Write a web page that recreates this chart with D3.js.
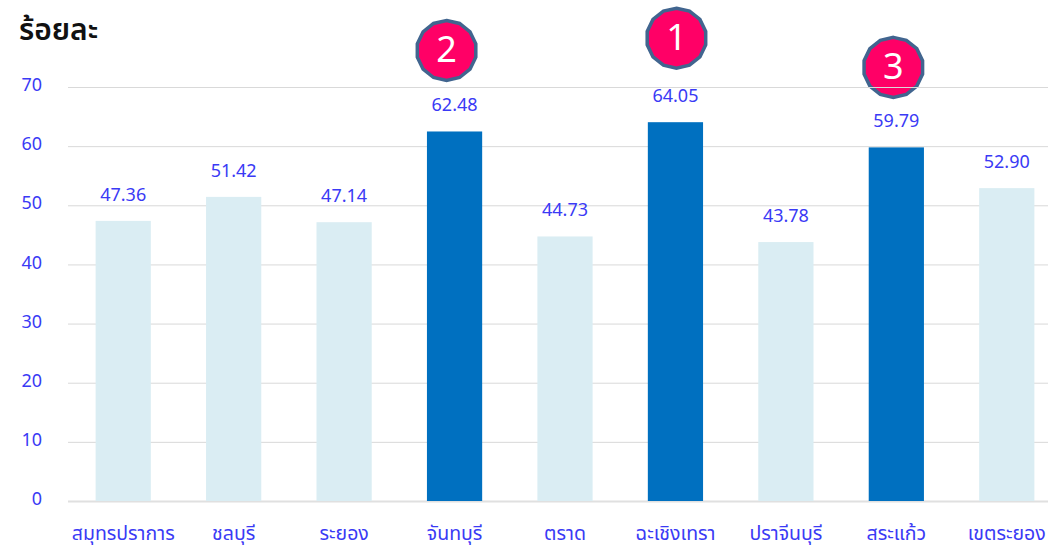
<!DOCTYPE html>
<html>
<head>
<meta charset="utf-8">
<script src="https://cdn.jsdelivr.net/npm/d3@7"></script>
<style>
  html, body { margin: 0; padding: 0; background: #fff; overflow: hidden; }
  text { font-family: "Noto Sans", "Noto Sans Thai", "Open Sans", sans-serif; }
</style>
</head>
<body>
<div class="canvas"></div>
<script>
// values
var provinces = ["สมุทรปราการ", "ชลบุรี", "ระยอง", "จันทบุรี", "ตราด", "ฉะเชิงเทรา", "ปราจีนบุรี", "สระแก้ว", "เขตระยอง"];
var percents = [47.36, 51.42, 47.14, 62.48, 44.73, 64.05, 43.78, 59.79, 52.90];
var yTicks = [0, 10, 20, 30, 40, 50, 60, 70];
var rankProvinces = ["ฉะเชิงเทรา", "จันทบุรี", "สระแก้ว"];
var rankLabels = ["1", "2", "3"];

var width = 1048, height = 547;
var margin = {top: 87, right: -14, bottom: 46, left: 68};

var svg = d3.select(".canvas")
    .append("svg")
    .attr("width", width)
    .attr("height", height)
    .style("display", "block");

var x = d3.scaleBand()
    .domain(provinces)
    .range([margin.left, width - margin.right])
    .paddingInner(0.5)
    .paddingOuter(0.25);

var y = d3.scaleLinear()
    .domain([0, 70])
    .range([height - margin.bottom, margin.top]);

var blue = "#3A3AF5";

// title
svg.append("text")
    .attr("x", 19)
    .attr("y", 40)
    .attr("fill", "#111")
    .style("font-size", "30px")
    .style("font-weight", 600)
    .text("ร้อยละ");

// badges go under the gridlines, the 70 line crosses badge 3 in the original
var rankOffset = {"1": {dx: 1, dy: -84}, "2": {dx: -8, dy: -81}, "3": {dx: -3, dy: -80}};
var polygon = d3.lineRadial()
    .angle(function(d) { return d * 2 * Math.PI / 14; })
    .radius(30)
    .curve(d3.curveLinearClosed);

var badges = svg.selectAll(".badge")
    .data(rankProvinces)
    .enter()
    .append("g")
    .attr("class", "badge")
    .attr("transform", function(d, i) {
        var off = rankOffset[rankLabels[i]];
        var cx = x(d) + x.bandwidth() / 2 + off.dx;
        var cy = y(percents[provinces.indexOf(d)]) + off.dy;
        return "translate(" + cx + "," + cy + ")";
    });

badges.append("path")
    .attr("d", polygon(d3.range(14)))
    .attr("fill", "#FF0066")
    .attr("stroke", "#41658F")
    .attr("stroke-width", 3.5);

// gridlines and y axis labels
var yAxis = svg.append("g")
    .attr("transform", "translate(" + margin.left + ",0)")
    .call(d3.axisLeft(y).tickValues(yTicks).tickSize(-(width - margin.left)).tickPadding(26));
yAxis.select(".domain").remove();
yAxis.selectAll("line")
    .attr("stroke", function(d) { return d === 0 ? "#E0E0E0" : "#D9D9D9"; })
    .attr("stroke-width", function(d) { return d === 0 ? 2 : 1; });
yAxis.selectAll("text")
    .attr("fill", blue)
    .attr("dy", "0.2em")
    .style("font-size", "18px");

// badge numbers sit on top of the line
badges.append("text")
    .attr("text-anchor", "middle")
    .attr("y", 12)
    .attr("fill", "#fff")
    .style("font-size", "36px")
    .text(function(d, i) { return rankLabels[i]; });

// bars
svg.selectAll(".bar")
    .data(provinces)
    .enter()
    .append("rect")
    .attr("class", "bar")
    .attr("x", function(d) { return x(d); })
    .attr("y", function(d, i) { return y(percents[i]); })
    .attr("width", x.bandwidth())
    .attr("height", function(d, i) { return y(0) - y(percents[i]); })
    .attr("fill", function(d) { return rankProvinces.indexOf(d) >= 0 ? "#0070C0" : "#DAEDF3"; });

// value labels
svg.selectAll(".value")
    .data(provinces)
    .enter()
    .append("text")
    .attr("class", "value")
    .attr("x", function(d) { return x(d) + x.bandwidth() / 2; })
    .attr("y", function(d, i) { return y(percents[i]) - 20; })
    .attr("text-anchor", "middle")
    .attr("fill", blue)
    .style("font-size", "18px")
    .text(function(d, i) { return percents[i].toFixed(2); });

// x axis labels
var xAxis = svg.append("g")
    .attr("transform", "translate(0," + y(0) + ")")
    .call(d3.axisBottom(x).tickSize(0).tickPadding(25));
xAxis.select(".domain").remove();
xAxis.selectAll("text")
    .attr("fill", blue)
    .style("font-size", "19.5px");
</script>
</body>
</html>
